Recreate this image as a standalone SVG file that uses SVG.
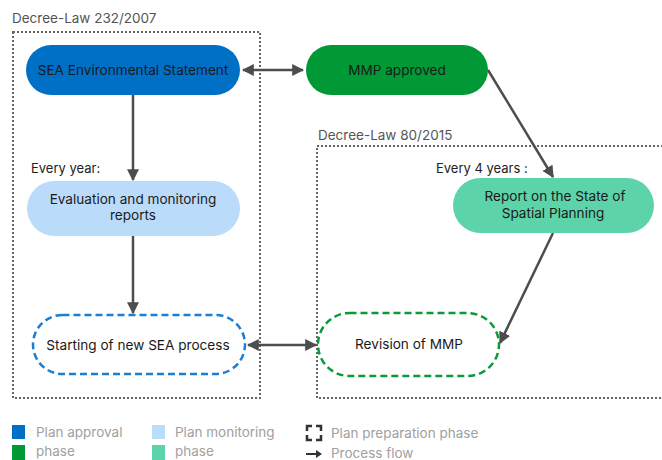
<svg xmlns="http://www.w3.org/2000/svg" width="662" height="460" viewBox="0 0 662 460">
<style>
text{font-family:Inter,"Open Sans","Liberation Sans",sans-serif;}
.lbl{font-size:13.6px;fill:#1a1a1a;text-anchor:middle;}
.title{font-size:13.5px;fill:#555;}
.note{font-size:13px;fill:#222;}
.leg{font-size:13.5px;fill:#a0a0a0;}
.box{fill:none;stroke:#666;stroke-width:2;stroke-dasharray:2 2;}
.con{stroke:#4d4d4d;stroke-width:2.5;fill:none;}
</style>
<defs>
<marker id="ah" viewBox="0 0 10 10" refX="9" refY="5" markerWidth="4.8" markerHeight="4.8" orient="auto-start-reverse">
<path d="M0,0 L10,5 L0,10 z" fill="#4d4d4d"/>
</marker>
</defs>
<rect width="662" height="460" fill="#fff"/>
<g id="frames">
<text class="title" x="12" y="23">Decree-Law 232/2007</text>
<rect class="box" x="13" y="32" width="247" height="366"/>
<text class="title" x="318" y="140">Decree-Law 80/2015</text>
<rect class="box" x="317" y="146" width="350" height="252"/>
</g>
<g id="connectors">
<line class="con" x1="243" y1="70" x2="303" y2="70" marker-start="url(#ah)" marker-end="url(#ah)"/>
<line class="con" x1="133" y1="95" x2="133" y2="180" marker-end="url(#ah)"/>
<line class="con" x1="133" y1="236" x2="133" y2="313" marker-end="url(#ah)"/>
<line class="con" x1="248" y1="345" x2="316" y2="345" marker-start="url(#ah)" marker-end="url(#ah)"/>
<line class="con" x1="488" y1="70" x2="553" y2="177" marker-end="url(#ah)"/>
<line class="con" x1="553" y1="233" x2="500" y2="343" marker-end="url(#ah)"/>
</g>
<g id="sea-statement">
<rect x="26" y="45" width="214" height="50" rx="25" fill="#0070C6"/>
<text class="lbl" x="133" y="75">SEA Environmental Statement</text>
</g>
<g id="mmp-approved">
<rect x="306" y="45" width="182" height="50" rx="25" fill="#009935"/>
<text class="lbl" x="397" y="75">MMP approved</text>
</g>
<g id="evaluation">
<text class="note" x="31" y="173">Every year:</text>
<rect x="27" y="181" width="213" height="55" rx="27.5" fill="#BADCFA"/>
<text class="lbl" x="133" y="204">Evaluation and monitoring</text>
<text class="lbl" x="133" y="220">reports</text>
</g>
<g id="starting-sea">
<rect x="33" y="315" width="212" height="59" rx="29.5" fill="none" stroke="#1a7fd4" stroke-width="2.5" stroke-dasharray="7 4"/>
<text class="lbl" x="138" y="350">Starting of new SEA process</text>
</g>
<g id="report">
<text class="note" x="436" y="173">Every 4 years :</text>
<rect x="453" y="178" width="201" height="55" rx="27.5" fill="#5CD3A8"/>
<text class="lbl" x="555" y="201">Report on the State of</text>
<text class="lbl" x="553" y="218">Spatial Planning</text>
</g>
<g id="revision">
<rect x="318" y="313" width="181" height="63" rx="31.5" fill="none" stroke="#0b9a3a" stroke-width="2.5" stroke-dasharray="7 4"/>
<text class="lbl" x="409" y="349">Revision of MMP</text>
</g>
<g id="legend">
<rect x="12" y="425" width="13" height="14" fill="#0070C6"/>
<rect x="12" y="445" width="13" height="15" fill="#009935"/>
<text class="leg" x="36" y="437">Plan approval</text>
<text class="leg" x="36" y="456">phase</text>
<rect x="152" y="425" width="13" height="14" fill="#BADCFA"/>
<rect x="152" y="445" width="13" height="15" fill="#5CD3A8"/>
<text class="leg" x="175" y="437">Plan monitoring</text>
<text class="leg" x="175" y="456">phase</text>
<path d="M307,431 V426 H312 M316,426 H321 V431 M321,435 V440 H316 M312,440 H307 V435" fill="none" stroke="#333" stroke-width="2.5"/>
<text class="leg" x="331" y="438">Plan preparation phase</text>
<line x1="306" y1="454" x2="318" y2="454" stroke="#333" stroke-width="2"/>
<path d="M316,450 L322,454 L316,458 z" fill="#333"/>
<text class="leg" x="331" y="458">Process flow</text>
</g>
</svg>
